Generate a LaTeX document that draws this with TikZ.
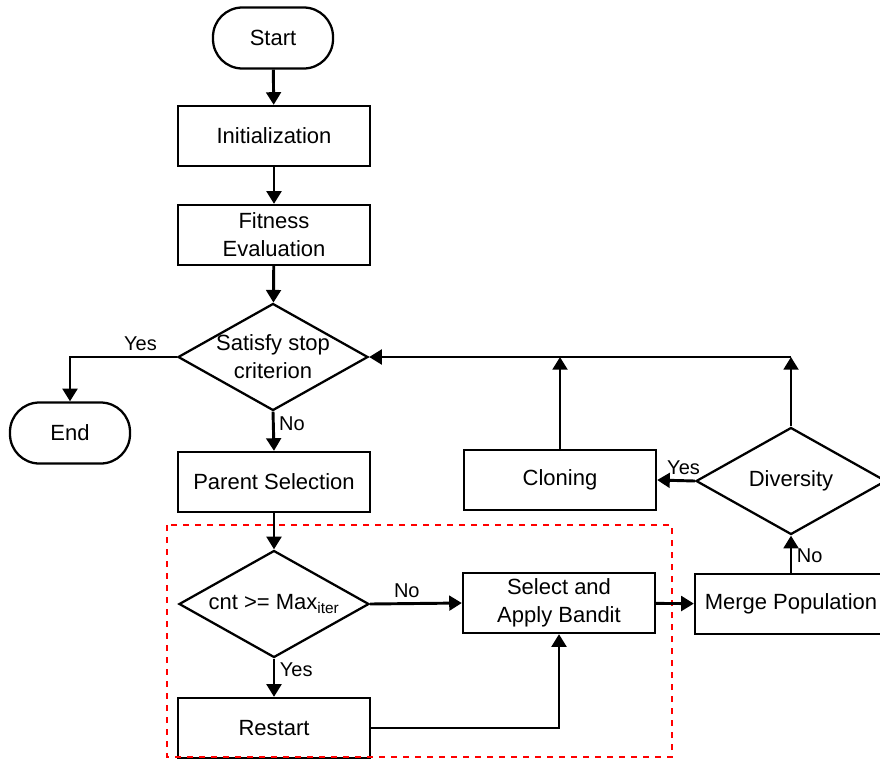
\documentclass[tikz,border=0pt]{standalone}
\usepackage{fontspec}
\setmainfont{Liberation Sans}
\usepackage{xcolor}
\usetikzlibrary{arrows.meta,shapes.geometric}

\begin{document}
\begin{tikzpicture}[x=0.75pt,y=-0.75pt,
  font=\fontsize{16.5}{21}\selectfont,
  n/.style={draw,line width=1.7pt,minimum width=144pt,minimum height=45pt,inner sep=0pt,align=center},
  t/.style={draw,line width=1.7pt,rounded corners=22pt,minimum width=90pt,minimum height=45.75pt,inner sep=0pt},
  d/.style={draw,diamond,line width=1.7pt,minimum width=142.5pt,minimum height=80.25pt,inner sep=0pt},
  lb/.style={font=\fontsize{15}{18}\selectfont},
  ar/.style={line width=2.2pt,-{Triangle[length=9.5pt,width=11pt]}}]
\useasboundingbox (0,0) rectangle (880,764);
\clip (0,0) rectangle (880,764);
% main column
\node[t] (start)   at (273,38)  {Start};
\node[n] (init)    at (274,136) {Initialization};
\node[n] (fit)     at (274,235) {Fitness\\Evaluation};
\node[d,label={[align=center]center:Satisfy stop\\criterion}] (stop) at (273,357) {};
\node[t] (fin)     at (70,433)  {End};
\node[n] (parent)  at (274,482) {Parent Selection};
\node[d,label={center:cnt >= Max\textsubscript{iter}}] (cnt) at (274,604) {};
\node[n] (restart) at (274,728) {Restart};
% right side
\node[n] (bandit)  at (559,603) {Select and\\Apply Bandit};
\node[n] (merge)   at (791,604) {Merge Population};
\node[d,label={center:Diversity}] (divers) at (791,481) {};
\node[n] (clone)   at (560,480) {Cloning};
\coordinate (c1) at (560,357);
\coordinate (c2) at (791,357);
% bandit region
\draw[red,line width=1.8pt,dash pattern=on 4.5pt off 4.5pt] (167,525) rectangle (672,757);
\foreach \a/\b in {start/init,init/fit,fit/stop,parent/cnt,bandit/merge}
  \draw[ar] (\a) -- (\b);
\draw[ar] (stop.west) -| node[lb,above,pos=0.17] {Yes} (fin.north);
\draw[ar] (stop.south) -- node[lb,right,pos=0.3] {No} (parent.north);
\draw[ar] (cnt.east) -- node[lb,above,pos=0.4] {No} (bandit.west);
\draw[ar] (cnt.south) -- node[lb,right,pos=0.3] {Yes} (restart.north);
\draw[ar] (restart.east) -| (bandit.south);
\draw[ar] (merge.north) -- node[lb,right,pos=0.45] {No} (divers.south);
\draw[ar] (divers.west) -- node[lb,above,pos=0.3] {Yes} (clone.east);
\draw[ar] (clone.north) -- (c1);
\draw[ar] (divers.north) -- (c2);
\draw[ar] (c2) -- (stop.east);
\end{tikzpicture}
\end{document}
